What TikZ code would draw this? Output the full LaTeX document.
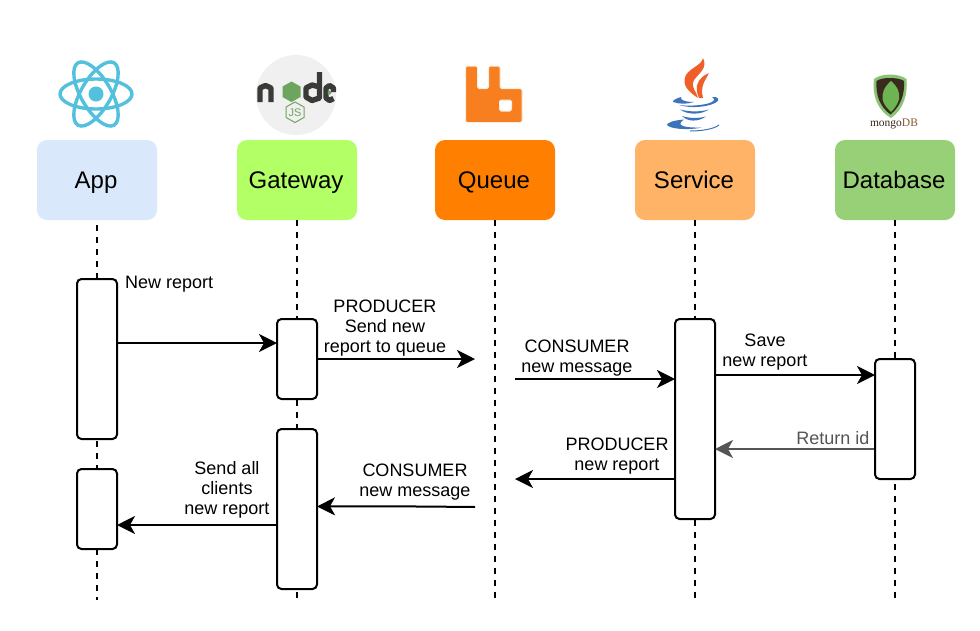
\documentclass[tikz,border=0pt]{standalone}
\usepackage{fontspec}
\setmainfont{Liberation Sans}
\newfontfamily\logoserif{Liberation Serif}
\usetikzlibrary{arrows.meta,calc}
\definecolor{reactblue}{HTML}{53C1DE}
\definecolor{rabbit}{HTML}{F77F1F}
\definecolor{flame}{HTML}{EF5F2A}
\definecolor{cupblue}{HTML}{3C74BC}
\definecolor{nodedark}{HTML}{3A3A38}
\definecolor{nodegreen}{HTML}{6DA55F}
\definecolor{leafgreen}{HTML}{6CB552}
\definecolor{mongodark}{HTML}{3A2A1E}
\definecolor{retgray}{HTML}{555555}
\tikzset{
  x=1pt,y=-1pt,
  headbox/.style={rounded corners=10pt,minimum width=120pt,minimum height=80pt,inner sep=0pt,text height=22pt,text depth=5pt,font=\fontsize{24}{28}\selectfont,execute at end node={\kern 2pt}},
  lifeline/.style={line width=2pt,dash pattern=on 6pt off 6pt},
  actbox/.style={draw,line width=2pt,fill=white,rounded corners=4.5pt,minimum width=40pt,inner sep=0pt},
  msg/.style={line width=2pt,shorten >=-1pt,-{Stealth[length=18pt,width=18pt,inset=5pt]}},
  lbl/.style={font=\fontsize{18}{20}\selectfont,align=center,inner sep=0pt},
}
\begin{document}
\begin{tikzpicture}
\useasboundingbox[fill=white] (0,0) rectangle (980,630);
% heads
\node[headbox,fill={rgb,255:red,218;green,232;blue,252}] (app) at (97,180) {App};
\node[headbox,fill={rgb,255:red,179;green,255;blue,102}] (gw) at (297,180) {Gateway};
\node[headbox,fill={rgb,255:red,255;green,128;blue,0}] (queue) at (495,180) {Queue};
\node[headbox,fill={rgb,255:red,255;green,179;blue,102}] (svc) at (695,180) {Service};
\node[headbox,fill={rgb,255:red,151;green,208;blue,119}] (db) at (895,180) {Database};
% lifelines
\coordinate (append) at (97,600);
\coordinate (gwend) at (296.5,600);
\coordinate (qend) at (494.5,600);
\coordinate (svcend) at (695,600);
\coordinate (dbend) at (895,600);
\draw[lifeline] (97,225) -- (append);
\draw[lifeline] (296.5,220) -- (gwend);
\draw[lifeline] (494.5,220) -- (qend);
\draw[lifeline] (695,220) -- (svcend);
\draw[lifeline] (895,220) -- (dbend);
% activations
\node[actbox,minimum height=160pt] (a1) at (97,359) {};
\node[actbox,minimum height=80pt] (a2) at (97,509) {};
\node[actbox,minimum height=80pt] (g1) at (297,359) {};
\node[actbox,minimum height=160pt] (g2) at (297,509) {};
\node[actbox,minimum height=200pt] (s1) at (695,419) {};
\node[actbox,minimum height=120pt] (d1) at (895,419) {};
% free ends at the queue
\coordinate (q1) at (474,359);
\coordinate (q2) at (515,379);
\coordinate (q3) at (516,479);
\coordinate (q4) at (475,507);
% messages
\draw[msg] (a1.east |- 0,343) -- (g1.west |- 0,343);
\draw[msg] (g1.east |- q1) -- (q1);
\draw[msg] (q2) -- (s1.west |- q2);
\draw[msg] (s1.east |- 0,375) -- (d1.west |- 0,375);
\draw[msg,retgray] (d1.west |- 0,449) -- (s1.east |- 0,449);
\draw[msg] (s1.west |- q3) -- (q3);
\draw[msg] (q4) .. controls (420,506.5) and (370,506) .. (g2.east |- 0,506.5);
\draw[msg] (g2.west |- 0,525) -- (a2.east |- 0,525);
% labels
\node[lbl,anchor=west] (l1) at (125,284) {New report};
\node[lbl] (l2) at (385,328) {PRODUCER\\Send new\\report to queue};
\node[lbl] (l3) at (577,358) {CONSUMER\\new message};
\node[lbl] (l4) at (765,352) {Save\\new report};
\node[lbl,anchor=east,text=retgray] (l5) at (869.5,438) {Return id};
\node[lbl] (l6) at (617,456) {PRODUCER\\new report};
\node[lbl] (l7) at (415,482) {CONSUMER\\new message};
\node[lbl] (l8) at (227,490) {Send all\\clients\\new report};
% React logo
\begin{scope}[shift={(96,94)}]
  \foreach \a in {0,60,120}{\draw[reactblue,line width=3.4pt,rotate=\a] (0,0) ellipse [x radius=36,y radius=15];}
  \fill[reactblue] (0,0) circle (7.5);
\end{scope}
% Node logo
\fill[black!6] (296,95) circle (40);
\begin{scope}[nodedark,line width=5.4pt,line join=round]
  \draw (260,102) -- (260,88) -- (265.5,85.5) -- (271,88) -- (271,102);
  \draw (319.5,72) -- (319.5,98) -- (312,100.5) -- (306,97) -- (306,88) -- (312,85) -- (319.5,87);
  \draw (333.5,98.5) -- (329.5,100.5) -- (326,98) -- (326,88) -- (329.5,85.5) -- (333.5,88) -- (333.5,92);
\end{scope}
\fill[nodegreen] (291.5,81.5) -- (300.5,86.5) -- (300.5,97) -- (291.5,102) -- (282.5,97) -- (282.5,86.5) -- cycle;
\fill[nodegreen] (329.5,92.5) circle (2);
\draw[nodegreen,line width=1pt] (295,102) -- (304,107) -- (304,117.5) -- (295,122.5) -- (286,117.5) -- (286,107) -- cycle;
\node[text=nodegreen,font=\fontsize{11}{11}\selectfont,inner sep=0pt] (jslogo) at (295,112.5) {JS};
% RabbitMQ logo
\draw[white!85!rabbit,line width=1pt,fill=rabbit,even odd rule,rounded corners=1.5pt]
  (465.5,66) -- (477.5,66) -- (477.5,88.5) -- (488.5,88.5) -- (488.5,66) -- (500,66) -- (500,88.5) -- (522,88.5) -- (522,122.5) -- (465.5,122.5) -- cycle
  (499.5,100) -- (511.5,100) -- (511.5,111) -- (499.5,111) -- cycle;
% Java logo
\fill[flame] (698,98) .. controls (689,92) and (681,85) .. (686,75) .. controls (690,68) and (702,65) .. (703,58)
  .. controls (708,68) and (699,73) .. (694,80) .. controls (690,87) and (697,92) .. (698,98) -- cycle;
\fill[flame] (699,98) .. controls (694,88) and (697,78) .. (709,73) .. controls (705,81) and (700,86) .. (703,98) -- cycle;
\begin{scope}[cupblue]
  \fill (681,97) .. controls (676,98.5) and (673,100) .. (673,102) .. controls (680,104.5) and (688,104) .. (694,102) .. controls (686,102) and (680,100.5) .. (681,97) -- cycle;
  \fill (679,105) .. controls (688,108) and (705,108) .. (715,103) .. controls (721,100) and (718,96) .. (712,97) .. controls (716,99) and (714,102) .. (708,103.5) .. controls (698,106) and (686,106) .. (679,105) -- cycle;
  \fill (680,109.5) .. controls (690,112) and (700,112) .. (709,109.5) .. controls (700,115) and (688,115) .. (680,109.5) -- cycle;
  \fill (682,116) .. controls (690,118.5) and (698,118.5) .. (706,116.5) .. controls (698,122) and (688,122) .. (682,116) -- cycle;
  \fill (684,119.5) .. controls (672,120.5) and (667,123) .. (667,125) .. controls (670,129) and (688,130.5) .. (702,127.5) .. controls (686,128) and (674,126) .. (684,119.5) -- cycle;
  \draw[line width=1pt] (690,131) .. controls (702,131) and (714,129) .. (719,125);
\end{scope}
% MongoDB logo
\fill[leafgreen!80!white] (890,74.5) .. controls (897,74.5) and (903,76.5) .. (906.5,79) .. controls (908,95) and (903,110) .. (891,118) .. controls (877,110) and (872,95) .. (874,79) .. controls (877,76.5) and (883,74.5) .. (890,74.5) -- cycle;
\fill[mongodark] (890,78) .. controls (896,78) and (901,79) .. (904,81) .. controls (905,95) and (900,107) .. (890.5,114.5) .. controls (880,107) and (875.5,95) .. (876.5,81) .. controls (879,79) and (884,78) .. (890,78) -- cycle;
\fill[leafgreen] (891,81) .. controls (898,87) and (900,93) .. (899,99) .. controls (898,104) and (894,109) .. (891,112) .. controls (888,109) and (883,104) .. (882.5,99) .. controls (882,93) and (884,87) .. (891,81) -- cycle;
\node[font=\logoserif\fontsize{11.5}{11.5}\selectfont,inner sep=0pt,text=mongodark] (mongologo) at (894,124) {mongo\textcolor{brown!70!black}{DB}};
\end{tikzpicture}
\end{document}
